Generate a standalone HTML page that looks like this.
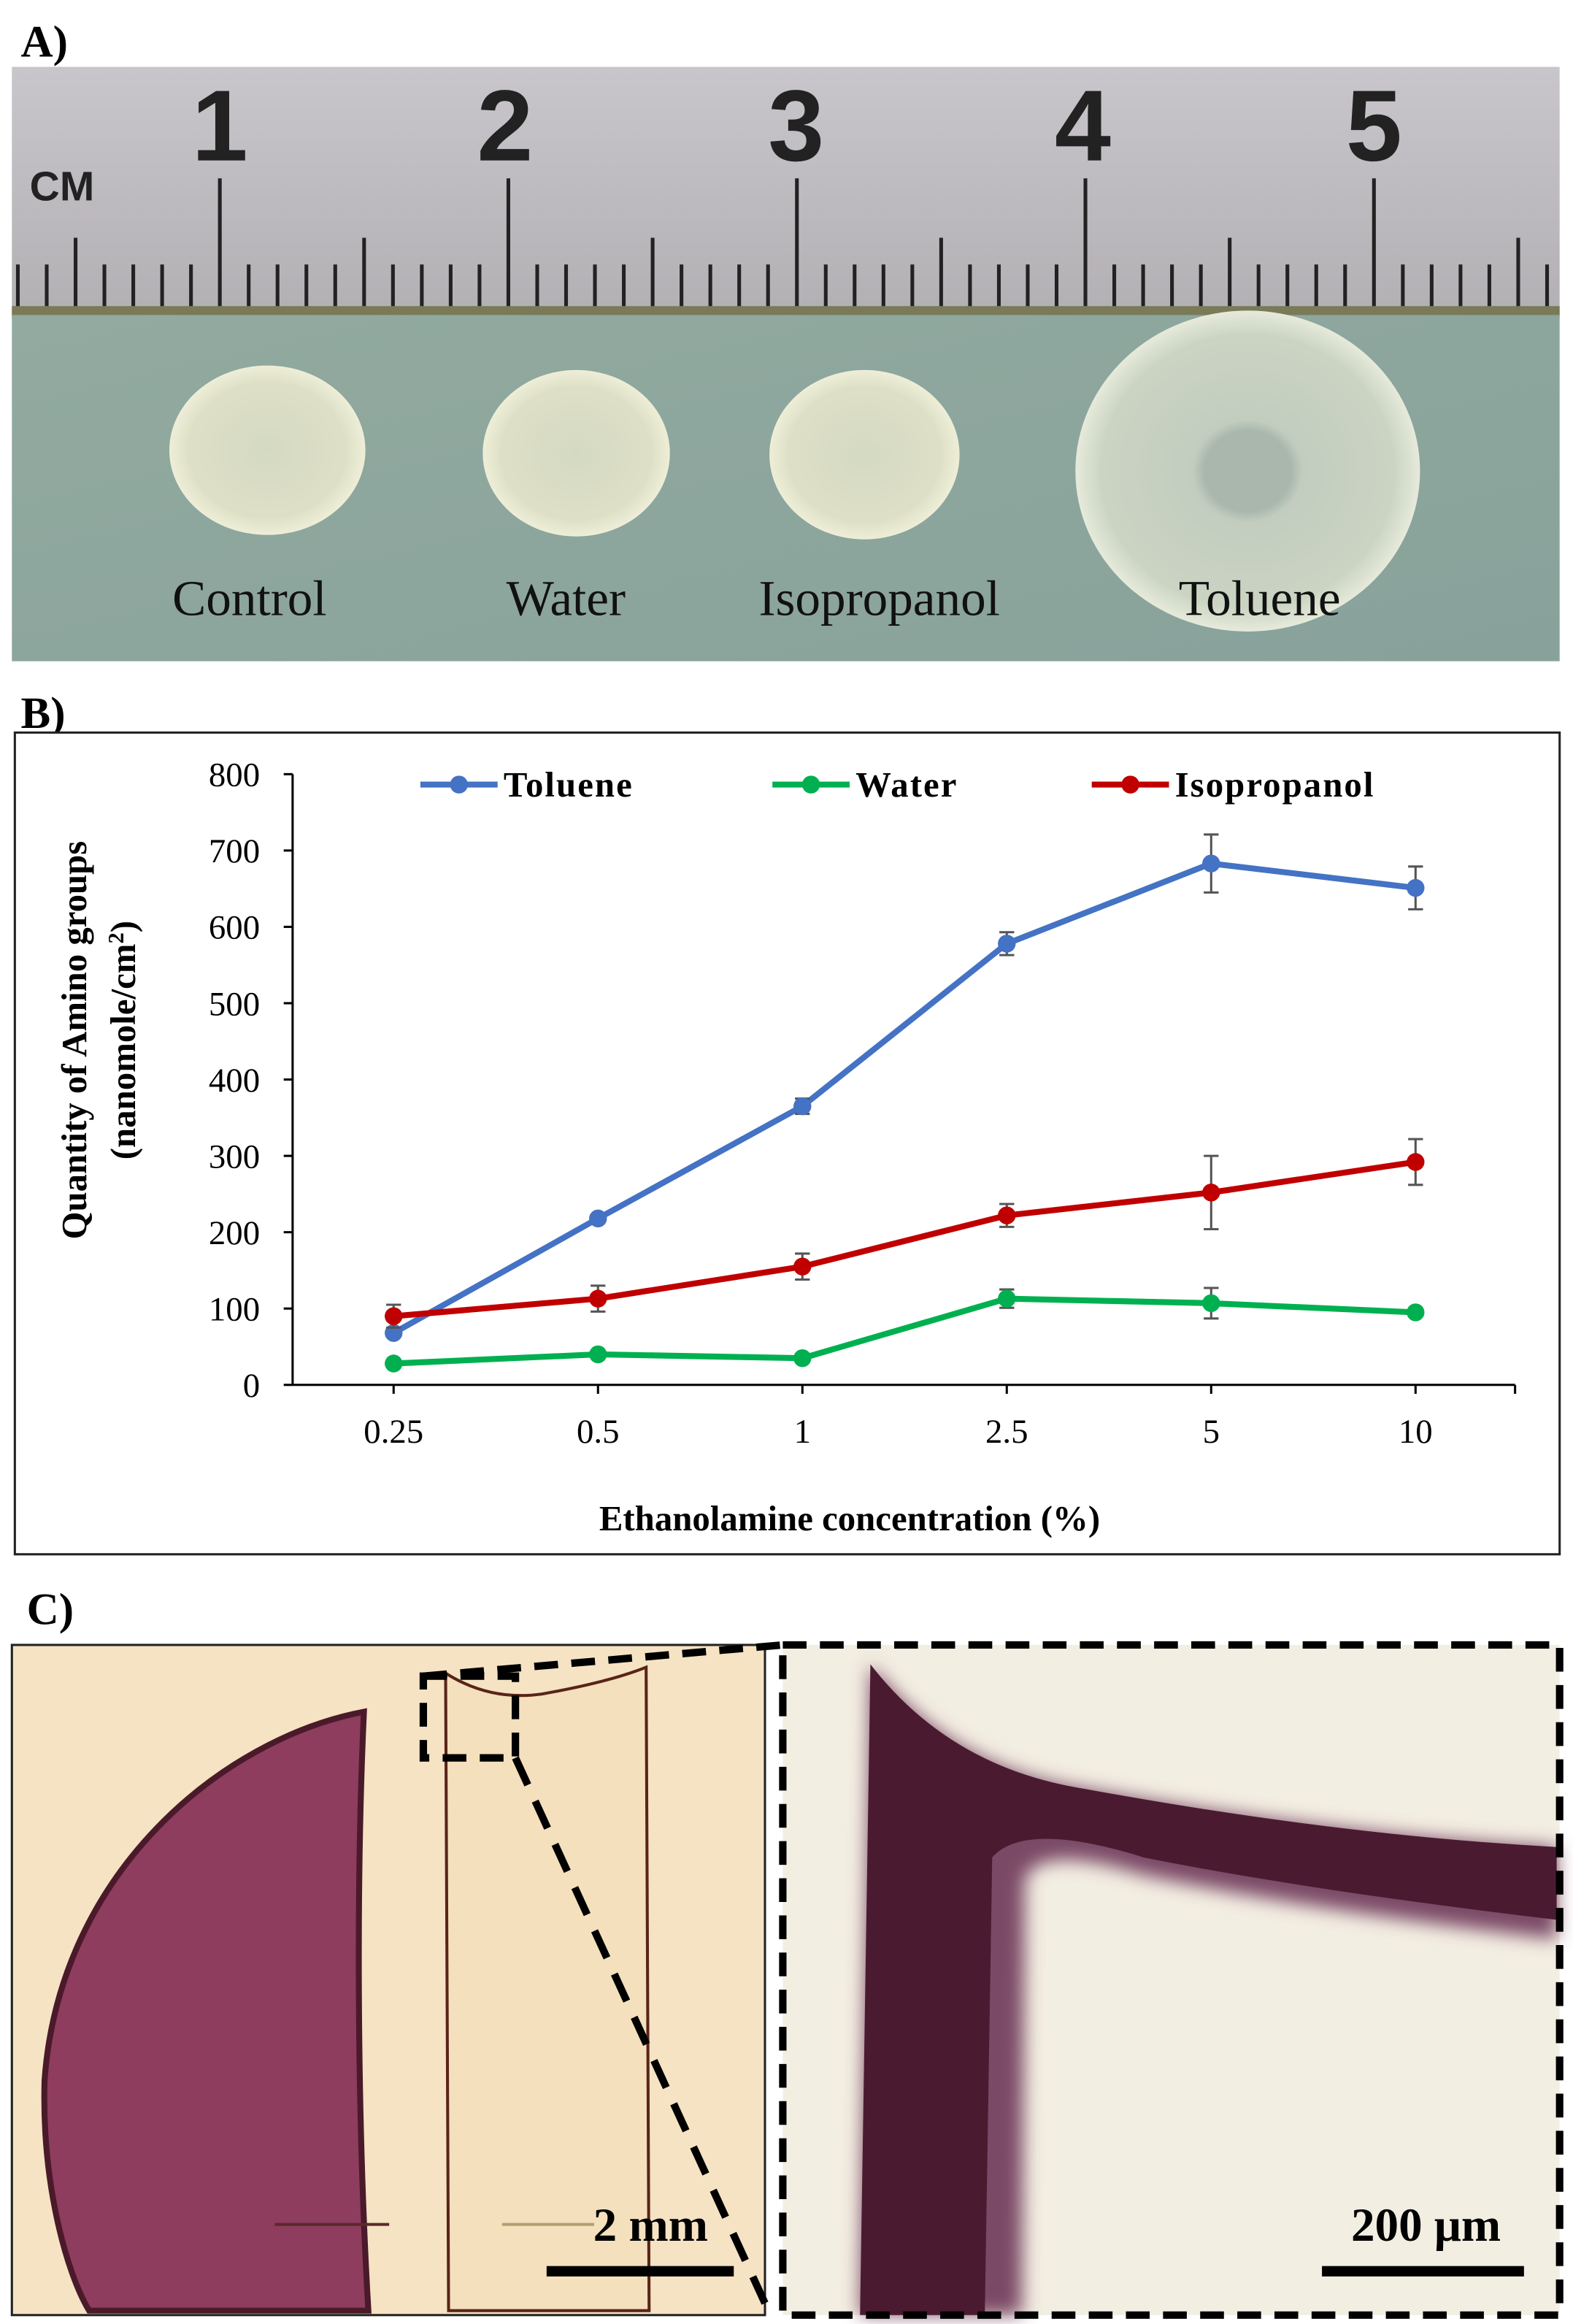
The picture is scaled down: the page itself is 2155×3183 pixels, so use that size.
<!DOCTYPE html>
<html><head><meta charset="utf-8"><style>
html,body{margin:0;padding:0;background:#fff;}
svg{display:block;}
</style></head><body>
<svg id="fig" width="2155" height="3183" viewBox="0 0 1059 1564" preserveAspectRatio="none" xmlns="http://www.w3.org/2000/svg" font-family="Liberation Serif, serif">
<defs>
<linearGradient id="ruler" x1="0" y1="0" x2="0" y2="1"><stop offset="0" stop-color="#c9c6cb"/><stop offset="1" stop-color="#b3b0b4"/></linearGradient>
<linearGradient id="green" x1="0" y1="0" x2="1" y2="1"><stop offset="0" stop-color="#92aa9f"/><stop offset="1" stop-color="#88a29b"/></linearGradient>
<radialGradient id="disc"><stop offset="0" stop-color="#d4d9c2"/><stop offset="0.8" stop-color="#dee0c6"/><stop offset="1" stop-color="#eeeed8"/></radialGradient>
<radialGradient id="disc2"><stop offset="0" stop-color="#a9b7ac"/><stop offset="0.25" stop-color="#a9b7ac"/><stop offset="0.32" stop-color="#c2cdbf"/><stop offset="0.85" stop-color="#cbd4c3"/><stop offset="1" stop-color="#e6eada"/></radialGradient>
<filter id="blur" x="-20%" y="-20%" width="140%" height="140%"><feGaussianBlur stdDeviation="6"/></filter>
</defs>

<!-- Panel A -->
<text x="14" y="38" font-size="30" font-weight="bold">A)</text>
<g>
<rect x="8" y="45" width="1042" height="167" fill="url(#ruler)"/>
<rect x="8" y="206" width="1042" height="8" fill="#7a7a58"/>
<rect x="8" y="212" width="1042" height="233" fill="url(#green)"/>
<g id="rticks" stroke="#222" stroke-width="2.5"></g>
<text x="20" y="135" font-family="Liberation Sans, sans-serif" font-weight="bold" font-size="28" fill="#222">CM</text>
<g font-family="Liberation Sans, sans-serif" font-weight="bold" font-size="68" fill="#222" text-anchor="middle">
<text x="148" y="108">1</text><text x="340" y="108">2</text><text x="536" y="108">3</text><text x="729" y="108">4</text><text x="925" y="108">5</text></g>
<ellipse cx="180" cy="303" rx="66" ry="57" fill="url(#disc)"/>
<ellipse cx="388" cy="305" rx="63" ry="56" fill="url(#disc)"/>
<ellipse cx="582" cy="306" rx="64" ry="57" fill="url(#disc)"/>
<ellipse cx="840" cy="317" rx="116" ry="108" fill="url(#disc2)"/>
<g font-size="34" fill="#111" text-anchor="middle">
<text x="168" y="414">Control</text><text x="381" y="414">Water</text><text x="592" y="414">Isopropanol</text><text x="848" y="414">Toluene</text></g>
</g>

<!-- Panel B -->
<text x="14" y="490" font-size="30" font-weight="bold">B)</text>
<rect x="10" y="493" width="1040" height="553" fill="#fff" stroke="#222" stroke-width="1.5"/>
<g id="chart"></g>
<text x="572" y="1030" font-size="24" font-weight="bold" text-anchor="middle">Ethanolamine concentration (%)</text>
<text transform="translate(58,700) rotate(-90)" font-size="24" font-weight="bold" text-anchor="middle">Quantity of Amino groups</text>
<text transform="translate(91,700) rotate(-90)" font-size="24" font-weight="bold" text-anchor="middle">(nanomole/cm<tspan dy="-8" font-size="15">2</tspan><tspan dy="8">)</tspan></text>

<!-- Panel C -->
<text x="18" y="1093" font-size="30" font-weight="bold">C)</text>
<g>
<rect x="8" y="1107" width="507" height="451" fill="#f5e3c4" stroke="#222" stroke-width="1.5"/>
<path d="M245,1152 C150,1170 40,1260 30,1400 C28,1470 45,1530 60,1555 L248,1555 C240,1420 240,1260 245,1152 Z" fill="#8e3d5e" stroke="#4a1a2a" stroke-width="4"/>
<path d="M300,1126 Q330,1145 365,1140 Q410,1132 435,1122 L437,1555 L302,1555 Z" fill="#f4e0bd" stroke="#5a2418" stroke-width="2"/>
<line x1="185" y1="1497" x2="262" y2="1497" stroke="#5a2a2a" stroke-width="2"/>
<line x1="338" y1="1497" x2="400" y2="1497" stroke="#b0a070" stroke-width="2"/>
<rect x="285" y="1128" width="62" height="55" fill="none" stroke="#000" stroke-width="5" stroke-dasharray="16,9"/>
<line x1="285" y1="1128" x2="527" y2="1107" stroke="#000" stroke-width="5" stroke-dasharray="16,9"/>
<line x1="347" y1="1183" x2="515" y2="1550" stroke="#000" stroke-width="5" stroke-dasharray="20,12"/>
<text x="438" y="1508" font-size="32" font-weight="bold" text-anchor="middle">2 mm</text>
<rect x="368" y="1525" width="126" height="7" fill="#000"/>
</g>
<g>
<rect x="527" y="1107" width="523" height="451" fill="#f3eee2"/>
<path d="M586,1120 Q640,1190 731,1204 Q900,1235 1048,1243 L1048,1305 Q880,1285 770,1262 Q700,1240 690,1265 L688,1558 L579,1558 Z" fill="#7a4a66" filter="url(#blur)"/>
<path d="M586,1120 Q640,1190 731,1204 Q900,1235 1048,1243 L1048,1292 Q880,1272 770,1250 Q690,1225 668,1250 L663,1558 L579,1558 Z" fill="#4a1b30"/>
<rect x="527" y="1107" width="523" height="451" fill="none" stroke="#000" stroke-width="5" stroke-dasharray="16,9"/>
<text x="960" y="1508" font-size="32" font-weight="bold" text-anchor="middle">200 μm</text>
<rect x="890" y="1525" width="136" height="7" fill="#000"/>
</g>
</svg>
<script>
(function(){
  const g=document.getElementById('rticks');
  const x0=148, step=(925-148)/40;
  for(let i=-7;i<=46;i++){
    const x=x0+i*step; if(x<10||x>1048) continue;
    let top = (((i%10)+10)%10===0)?120:((((i%5)+5)%5===0)?160:178);
    const l=document.createElementNS('http://www.w3.org/2000/svg','line');
    l.setAttribute('x1',x);l.setAttribute('x2',x);l.setAttribute('y1',top);l.setAttribute('y2',206);
    g.appendChild(l);
  }
})();

const categories=["0.25","0.5","1","2.5","5","10"];
const yTicks=[0,100,200,300,400,500,600,700,800];
const seriesNames=["Toluene","Water","Isopropanol"];
const toluene=[68,218,365,578,683,651];
const tolueneErr=[5,5,10,15,38,28];
const water=[28,40,35,113,107,95];
const waterErr=[3,3,3,12,20,5];
const isopropanol=[90,113,155,222,252,292];
const isopropanolErr=[15,17,17,15,48,30];

const NS='http://www.w3.org/2000/svg';
const chart=document.getElementById('chart');
const X0=197, X1=1020, Y0=932, YTOP=521, YMAX=800;
function xScale(i){return 265+i*(953-265)/(categories.length-1);}
function yScale(v){return Y0-(v/YMAX)*(Y0-YTOP);}
function mk(tag,attrs){const e=document.createElementNS(NS,tag);for(const k in attrs)e.setAttribute(k,attrs[k]);chart.appendChild(e);return e;}

let ax=mk('line',{x1:X0,x2:X0,y1:YTOP,y2:Y0,stroke:'#000','stroke-width':1.5});


let bx=mk('line',{x1:X0,x2:X1,y1:Y0,y2:Y0,stroke:'#000','stroke-width':1.5});


yTicks.forEach(v=>{
  const y=yScale(v);
  mk('line',{x1:X0-6,x2:X0,y1:y,y2:y,stroke:'#000','stroke-width':1.5});
  const t=mk('text',{x:X0-22,y:y+8,'font-size':23,'text-anchor':'end'});
  t.textContent=v;
  
  
});
categories.forEach((c,i)=>{
  const x=xScale(i);
  const t=mk('text',{x:x,y:971,'font-size':23,'text-anchor':'middle'});
  t.textContent=c;
  
  
  mk('line',{x1:x,x2:x,y1:Y0,y2:Y0+6,stroke:'#000','stroke-width':1.5});
});
mk('line',{x1:X1,x2:X1,y1:Y0,y2:Y0+6,stroke:'#000','stroke-width':1.5});

function drawSeries(vals,errs,color,name){
  const pts=vals.map((v,i)=>xScale(i)+','+yScale(v)).join(' ');
  const pl=mk('polyline',{points:pts,fill:'none',stroke:color,'stroke-width':4,'stroke-linejoin':'round'});
  
  
  vals.forEach((v,i)=>{
    const x=xScale(i), e=errs[i];
    mk('line',{x1:x,x2:x,y1:yScale(v+e),y2:yScale(v-e),stroke:'#555','stroke-width':1.5});
    mk('line',{x1:x-5,x2:x+5,y1:yScale(v+e),y2:yScale(v+e),stroke:'#555','stroke-width':1.5});
    mk('line',{x1:x-5,x2:x+5,y1:yScale(v-e),y2:yScale(v-e),stroke:'#555','stroke-width':1.5});
    const c=mk('circle',{cx:x,cy:yScale(v),r:6,fill:color});
    
    
  });
}
drawSeries(toluene,tolueneErr,'#4472c4','toluene');
drawSeries(isopropanol,isopropanolErr,'#c00000','isopropanol');
drawSeries(water,waterErr,'#00b050','water');

const legendColors=['#4472c4','#00b050','#c00000'];
const legendX=[283,520,735];
seriesNames.forEach((n,i)=>{
  const x=legendX[i];
  const g=mk('g',{});
  
  
  const l=document.createElementNS(NS,'line');
  l.setAttribute('x1',x);l.setAttribute('x2',x+52);l.setAttribute('y1',528);l.setAttribute('y2',528);
  l.setAttribute('stroke',legendColors[i]);l.setAttribute('stroke-width',4);g.appendChild(l);
  const c=document.createElementNS(NS,'circle');
  c.setAttribute('cx',x+26);c.setAttribute('cy',528);c.setAttribute('r',6);c.setAttribute('fill',legendColors[i]);g.appendChild(c);
  const t=document.createElementNS(NS,'text');
  t.setAttribute('x',x+56);t.setAttribute('y',536);t.setAttribute('font-size',24);t.setAttribute('font-weight','bold');
  t.setAttribute('letter-spacing','1');
  t.textContent=n;g.appendChild(t);
});
</script>
</body></html>
